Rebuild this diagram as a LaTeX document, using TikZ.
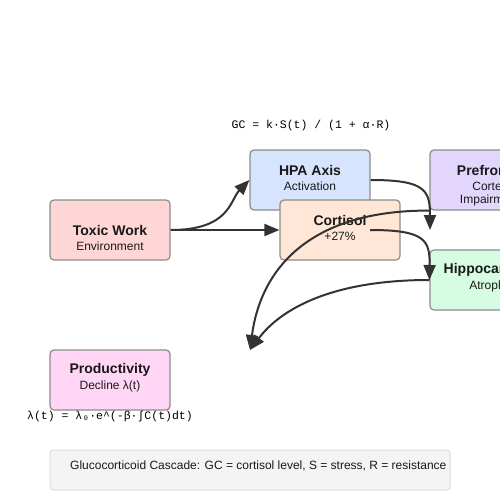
\documentclass[tikz,border=0pt]{standalone}
\usepackage{fontspec}
\setmainfont{Liberation Sans}
\newfontfamily\formulafont{Liberation Mono}
\usetikzlibrary{arrows.meta}
\definecolor{boxline}{HTML}{8C8C8C}
\definecolor{arrowline}{HTML}{333333}
\definecolor{toxicfill}{HTML}{FFD6D6}
\definecolor{hpafill}{HTML}{D6E4FD}
\definecolor{cortfill}{HTML}{FFE6D6}
\definecolor{pfcfill}{HTML}{E2D6FD}
\definecolor{hippofill}{HTML}{D6FDE2}
\definecolor{prodfill}{HTML}{FFD6F5}
\definecolor{notefill}{HTML}{F4F4F4}
\definecolor{noteline}{HTML}{DDDDDD}
\tikzset{
  box/.style={draw=boxline, line width=1.2pt, rounded corners=4pt,
    minimum width=120pt, minimum height=60pt, inner sep=0pt},
  title/.style={font=\fontsize{14}{16}\selectfont\bfseries, text=black!90, inner sep=0pt},
  sub/.style={font=\fontsize{12}{14}\selectfont, text=black!90, inner sep=0pt},
  formula/.style={font=\formulafont\fontsize{11.5}{13}\selectfont, inner sep=0pt},
  flow/.style={draw=arrowline, line width=2pt, -{Triangle[length=15pt,width=12pt]}}
}
\begin{document}
\begin{tikzpicture}[x=1pt,y=-1pt]
  \useasboundingbox (0,0) rectangle (500,500);
  \clip (0,0) rectangle (500,500);
  \node [formula] (gc) at (311,126) {GC = k·S(t) / (1 + α·R)};
  \node [box, fill=toxicfill] (toxic) at (110,230) {};
  \node [title] at (110,230) {Toxic Work};
  \node [sub] at (110,246) {Environment};
  \node [box, fill=hpafill] (hpa) at (310,180) {};
  \node [title] at (310,170) {HPA Axis};
  \node [sub] at (310,186) {Activation};
  \node [box, fill=pfcfill] (pfc) at (490,180) {};
  \node [title] at (490,170) {Prefrontal};
  \node [sub] at (490,186) {Cortex};
  \node [sub] at (490,200) {Impairment};
  \node [box, fill=cortfill] (cort) at (340,230) {};
  \node [title] at (340,220) {Cortisol};
  \node [sub] at (340,236) {+27\%};
  \node [box, fill=hippofill] (hippo) at (490,280) {};
  \node [title] at (490,270) {Hippocampus};
  \node [sub] at (490,286) {Atrophy};
  \node [box, fill=prodfill] (prod) at (110,380) {};
  \node [title] at (110,370) {Productivity};
  \node [sub] at (110,386) {Decline λ(t)};
  \node [formula] (lambda) at (110,417) {λ(t) = λ₀·e\^{}(-β·∫C(t)dt)};
  \node [draw=noteline, fill=notefill, line width=1pt, rounded corners=3pt,
    minimum width=400pt, minimum height=40pt] (note) at (250,470) {};
  \node [sub, anchor=west] at (70,466) {Glucocorticoid Cascade: GC = cortisol level, S = stress, R = resistance};
  \coordinate (cortout) at (370,230);
  \coordinate (pfcin) at (430,230);
  \coordinate (prodin) at (250,350);
  \draw [flow] (toxic.east) .. controls (230,230) and (230,200) .. (hpa.west);
  \draw [flow] (toxic.east) -- (cort.west);
  \draw [flow] (hpa.east) .. controls (425,180) and (430,190) .. (pfcin);
  \draw [flow] (cortout) .. controls (425,230) and (430,240) .. (hippo.west);
  \draw [flow] (pfc.south west) .. controls (320,210) and (262,260) .. (prodin);
  \draw [flow] (hippo.west) .. controls (330,280) and (280,310) .. (prodin);
\end{tikzpicture}
\end{document}
